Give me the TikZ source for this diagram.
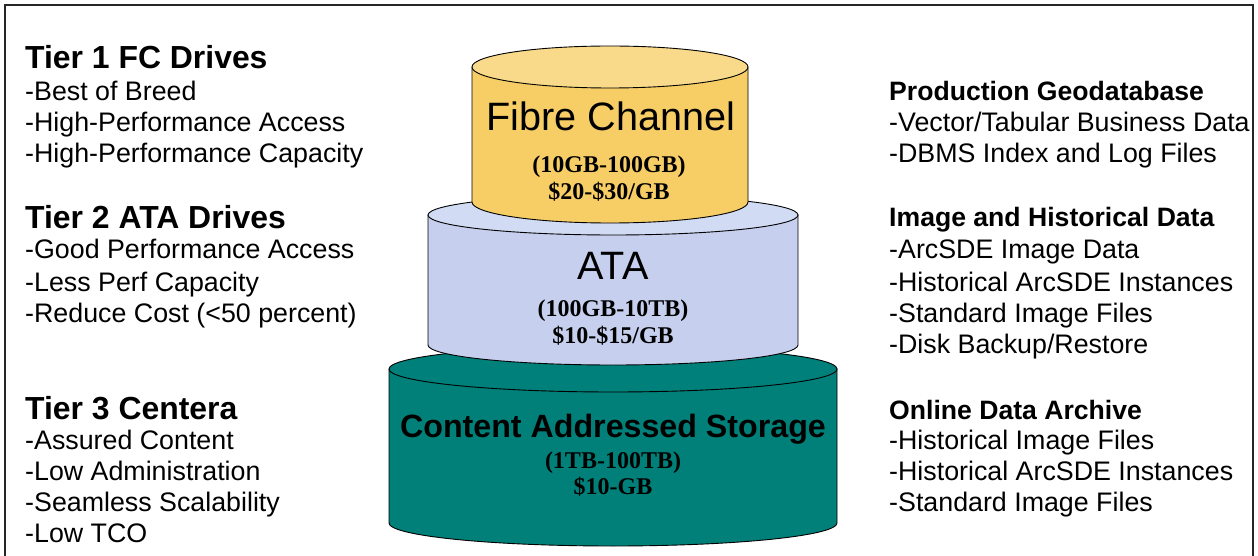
\documentclass[tikz,border=0pt]{standalone}
\usepackage{fontspec}
\setmainfont{Liberation Sans}
\newfontfamily\tnr{Liberation Serif}
\definecolor{fcbody}{HTML}{F7CD66}
\definecolor{fctop}{HTML}{F9DA8B}
\definecolor{atabody}{HTML}{C6D0EE}
\definecolor{atatop}{HTML}{D1DBF4}
\definecolor{casbody}{HTML}{008079}
\definecolor{castop}{HTML}{00807A}
\newcommand{\mycyl}[7]{%
  % #1 cx, #2 top y, #3 bottom y, #4 rx, #5 ry, #6 body, #7 top
  \filldraw[fill=#6,draw=black,line width=0.9pt] ({#1-#4},#2) -- ({#1-#4},#3)
    arc[start angle=180,end angle=360,x radius=#4,y radius=#5] -- ({#1+#4},#2) -- cycle;
  \filldraw[fill=#7,draw=black,line width=0.9pt] (#1,#2) ellipse[x radius=#4,y radius=#5];
}
\tikzset{
  headtxt/.style={anchor=base west,inner sep=0pt,font=\fontsize{31.9}{36}\selectfont\bfseries},
  rheadtxt/.style={anchor=base west,inner sep=0pt,font=\fontsize{26.6}{31}\selectfont\bfseries},
  itemtxt/.style={anchor=base west,inner sep=0pt,font=\fontsize{26.8}{31}\selectfont},
  bigtxt/.style={anchor=base,inner sep=0pt,font=\fontsize{39.6}{44}\selectfont},
  pricetxt/.style={anchor=base,inner sep=0pt,font=\tnr\fontsize{24}{28}\selectfont\bfseries},
}
\begin{document}
\begin{tikzpicture}[x=1pt,y=1pt]
\useasboundingbox (0,0) rectangle (1258,555);
\fill[white] (0,0) rectangle (1258,555);
% frame
\draw[line width=1.6pt,black!85] (5,-5) -- (5,550) -- (1253,550) -- (1253,-5);
% cylinders (y = 555 - pixel y)
\mycyl{613}{186}{32}{224}{23}{casbody}{castop}
\mycyl{613}{340}{210}{185}{20}{atabody}{atatop}
\mycyl{610}{488}{353}{138}{21}{fcbody}{fctop}
% cylinder texts
\node[bigtxt] (fc) at (611,{555-131}) {Fibre Channel};
\node[pricetxt] (fc1) at (609,{555-173}) {(10GB-100GB)};
\node[pricetxt] (fc2) at (609,{555-200}) {\$20-\$30/GB};
\node[bigtxt] (ata) at (613,{555-279}) {ATA};
\node[pricetxt] (ata1) at (613,{555-316}) {(100GB-10TB)};
\node[pricetxt] (ata2) at (613,{555-343}) {\$10-\$15/GB};
\node[anchor=base,inner sep=0pt,font=\fontsize{32.2}{36}\selectfont\bfseries] (cas) at (613,{555-437}) {Content Addressed Storage};
\node[pricetxt] (cas1) at (613,{555-468}) {(1TB-100TB)};
\node[pricetxt] (cas2) at (613,{555-494}) {\$10-GB};
% left column
\node[headtxt] (t1) at (25,{555-69}) {Tier 1 FC Drives};
\node[itemtxt] (t1a) at (25,{555-101}) {-Best of Breed};
\node[itemtxt] (t1b) at (25,{555-132}) {-High-Performance Access};
\node[itemtxt] (t1c) at (25,{555-163}) {-High-Performance Capacity};
\node[headtxt] (t2) at (25,{555-229}) {Tier 2 ATA Drives};
\node[itemtxt] (t2a) at (25,{555-259}) {-Good Performance Access};
\node[itemtxt] (t2b) at (25,{555-291}) {-Less Perf Capacity};
\node[itemtxt] (t2c) at (25,{555-322}) {-Reduce Cost (<50 percent)};
\node[headtxt] (t3) at (25,{555-419}) {Tier 3 Centera};
\node[itemtxt] (t3a) at (25,{555-449}) {-Assured Content};
\node[itemtxt] (t3b) at (25,{555-480}) {-Low Administration};
\node[itemtxt] (t3c) at (25,{555-511}) {-Seamless Scalability};
\node[itemtxt] (t3d) at (25,{555-542}) {-Low TCO};
% right column
\node[rheadtxt] (r1) at (889,{555-101}) {Production Geodatabase};
\node[itemtxt] (r1a) at (889,{555-132}) {-Vector/Tabular Business Data};
\node[itemtxt] (r1b) at (889,{555-163}) {-DBMS Index and Log Files};
\node[rheadtxt] (r2) at (889,{555-227}) {Image and Historical Data};
\node[itemtxt] (r2a) at (889,{555-259}) {-ArcSDE Image Data};
\node[itemtxt] (r2b) at (889,{555-291}) {-Historical ArcSDE Instances};
\node[itemtxt] (r2c) at (889,{555-322}) {-Standard Image Files};
\node[itemtxt] (r2d) at (889,{555-353}) {-Disk Backup/Restore};
\node[rheadtxt] (r3) at (889,{555-419}) {Online Data Archive};
\node[itemtxt] (r3a) at (889,{555-449}) {-Historical Image Files};
\node[itemtxt] (r3b) at (889,{555-480}) {-Historical ArcSDE Instances};
\node[itemtxt] (r3c) at (889,{555-511}) {-Standard Image Files};
\end{tikzpicture}
\end{document}
